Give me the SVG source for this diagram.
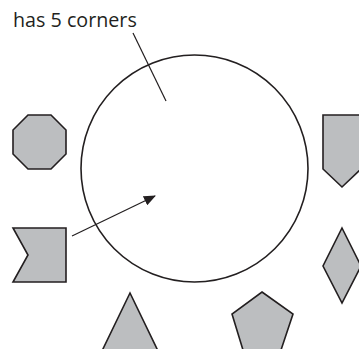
<svg xmlns="http://www.w3.org/2000/svg" width="359" height="349" viewBox="0 0 359 349">
<defs>
<style>
.shape{fill:#bcbec0;stroke:#231f20;stroke-width:1.6;stroke-linejoin:miter}
.line{fill:none;stroke:#231f20;stroke-width:1.2}
.lbl{font-family:"Open Sans","Liberation Sans",sans-serif;font-size:19.7px;fill:#231f20}
</style>
<marker id="ah" viewBox="0 0 12 10" refX="11" refY="5" markerWidth="12" markerHeight="10" markerUnits="userSpaceOnUse" orient="auto">
<path d="M0,0 L12,5 L0,10 z" fill="#231f20"/>
</marker>
</defs>
<rect width="359" height="349" fill="#ffffff"/>
<g id="circle"><circle cx="194.5" cy="168.5" r="113.5" fill="none" stroke="#231f20" stroke-width="1.6"/></g>
<g id="octagon"><polygon class="shape" points="28,115 51,115 66,130 66,154 51,169 28,169 13,154 13,130"/></g>
<g id="notched"><polygon class="shape" points="13,228 66,228 66,282 13,282 28,255"/></g>
<g id="shield"><polygon class="shape" points="323,115 361,115 361,169 342,187 323,169"/></g>
<g id="diamond"><polygon class="shape" points="342,228 361,266 342,303 323,266"/></g>
<g id="triangle"><polygon class="shape" points="130,293 101,353 159,353"/></g>
<g id="pentagon"><polygon class="shape" points="262,292 293,314 281,350 243,350 232,314"/></g>
<g id="label"><text class="lbl" x="13" y="27">has 5 corners</text></g>
<g id="connectors">
<line class="line" x1="133" y1="33" x2="166" y2="101"/>
<line class="line" x1="72" y1="236" x2="155" y2="196" marker-end="url(#ah)"/>
</g>
</svg>
